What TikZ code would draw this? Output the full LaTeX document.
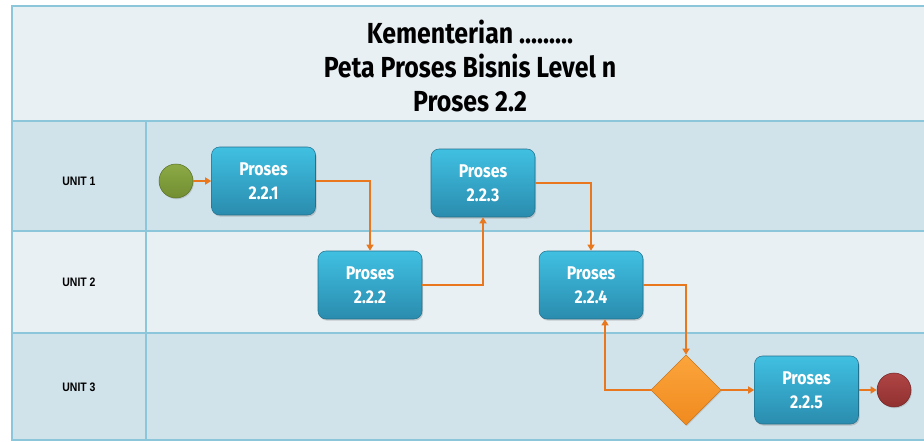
\documentclass[tikz,border=0pt]{standalone}
\usepackage{fontspec}
\setmainfont{Fira Sans}
\setsansfont{Fira Sans}[FakeStretch=0.86]
\newfontfamily\unitfont{Liberation Sans}[FakeStretch=0.85]
\usepackage{tikz}
\usetikzlibrary{positioning,arrows.meta,shapes.geometric,shadows}

\definecolor{laneDark}{HTML}{D0E2EA}
\definecolor{laneLight}{HTML}{E8F0F4}
\definecolor{laneLine}{HTML}{8CC6DA}
\definecolor{boxTop}{HTML}{40C0E2}
\definecolor{boxBot}{HTML}{2A8CAE}
\definecolor{flow}{HTML}{E8771E}
\definecolor{startTop}{HTML}{8CAA45}
\definecolor{startBot}{HTML}{728E32}
\definecolor{endTop}{HTML}{B04545}
\definecolor{endBot}{HTML}{903030}
\definecolor{gateTop}{HTML}{FBA53C}
\definecolor{gateBot}{HTML}{F08A1E}

\begin{document}
\begin{tikzpicture}[
        x=0.02cm, y=-0.02cm,
        font=\sffamily,
        lane/.style={draw=laneLine, line width=1pt},
        proc/.style={rounded corners=1.6mm, top color=boxTop, bottom color=boxBot,
            draw=boxBot!80!black, line width=0.3pt, text=white, align=center,
            minimum width=2.08cm, minimum height=1.36cm, font=\sffamily\bfseries\fontsize{10.5}{13.5}\selectfont,
            drop shadow={opacity=0.35, shadow xshift=0.6pt, shadow yshift=-0.9pt}},
        event/.style={circle, minimum size=0.68cm, inner sep=0pt, line width=0.3pt,
            drop shadow={opacity=0.3, shadow xshift=0.5pt, shadow yshift=-0.7pt}},
        gate/.style={diamond, minimum size=1.4cm, inner sep=0pt, top color=gateTop,
            bottom color=gateBot, draw=gateBot!85!black, line width=0.3pt,
            drop shadow={opacity=0.3, shadow xshift=0.5pt, shadow yshift=-0.7pt}},
        unit/.style={font=\unitfont\bfseries\fontsize{7}{8}\selectfont},
        line/.style={-{Triangle[width=4pt,length=3.5pt]}, draw=flow, line width=1pt}
    ]
        % frame and lanes
        \useasboundingbox (0,0) rectangle (924,442);
        \fill[laneLight] (12,6) rectangle (930,121);
        \fill[laneDark] (12,121) rectangle (930,231);
        \fill[laneLight] (12,231) rectangle (930,333);
        \fill[laneDark] (12,333) rectangle (930,440);
        \draw[lane] (930,6) -- (12,6) -- (12,440) -- (930,440);
        \draw[lane] (12,121) -- (930,121);
        \draw[lane] (12,231) -- (930,231);
        \draw[lane] (12,333) -- (930,333);
        \draw[lane] (146,121) -- (146,440);

        \node[align=center, font=\sffamily\bfseries\fontsize{16.5}{19.5}\selectfont] (title) at (470,66)
            {Kementerian .........\\Peta Proses Bisnis Level n\\Proses 2.2};
        \node[unit] (u1) at (79,181) {UNIT 1};
        \node[unit] (u2) at (79,282) {UNIT 2};
        \node[unit] (u3) at (79,387) {UNIT 3};

        % process
        \node[event, top color=startTop, bottom color=startBot, draw=startBot!80!black] (start) at (176,181) {};
        \node[proc, right=3.6mm of start] (p221) {Proses\\2.2.1};
        \node[proc] (p222) at (370,285) {Proses\\2.2.2};
        \node[proc] (p223) at (483,183) {Proses\\2.2.3};
        \node[proc] (p224) at (591,285) {Proses\\2.2.4};
        \node[gate] (dec) at (686,390) {};
        \node[proc, right=6.6mm of dec] (p225) {Proses\\2.2.5};
        \node[event, top color=endTop, bottom color=endBot, draw=endBot!80!black, right=3.6mm of p225] (end) {};

        \draw[line] (start) -- (p221);
        \draw[line] (p221.east) -| (p222.north);
        \draw[line] (p222.east) -| (p223.south);
        \draw[line] (p223.east) -| (p224.north);
        \draw[line] (p224.east) -| (dec.north);
        \draw[line] (dec.west) -| ([xshift=2.8mm]p224.south);
        \draw[line] (dec) -- (p225);
        \draw[line] (p225) -- (end);
    \end{tikzpicture}
\end{document}
